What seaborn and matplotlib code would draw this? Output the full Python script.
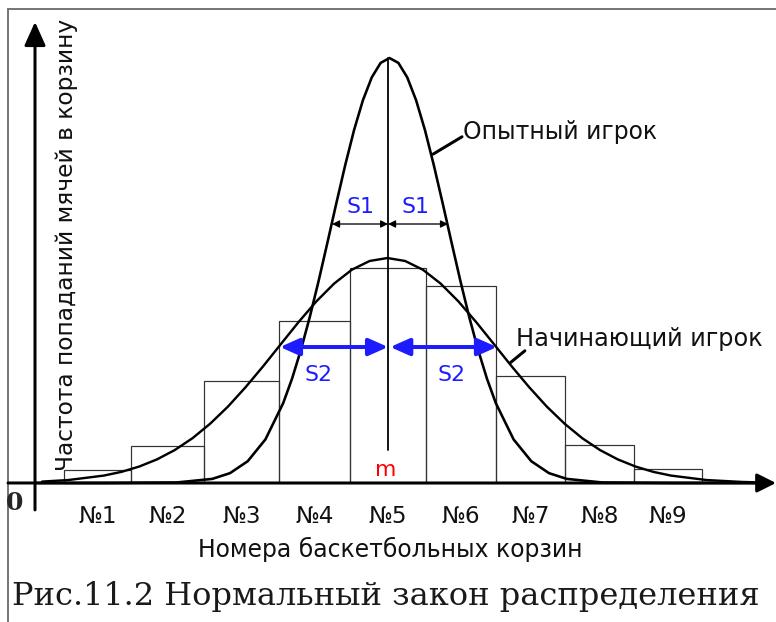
import matplotlib
matplotlib.use("Agg")
import matplotlib.pyplot as plt
import seaborn as sns

sns.set_style("white")
plt.rcParams["font.family"] = ["DejaVu Sans"]

# --- data ----------------------------------------------------------------
# x in basket units (origin at the y axis), y in relative frequency
BASKETS = ["№1", "№2", "№3", "№4", "№5", "№6", "№7", "№8", "№9"]
BIN_EDGES = [0.41, 1.35, 2.38, 3.44, 4.44, 5.51, 6.50, 7.47, 8.45, 9.41]
BEGINNER_FREQ = [0.015, 0.043, 0.117, 0.186, 0.247, 0.226, 0.123, 0.044, 0.016]

EXPERT_X = [0.0, 1.0, 2.0, 2.5, 2.75, 3.0, 3.25, 3.5, 3.625, 3.75, 3.875, 4.0,
            4.125, 4.25, 4.375, 4.5, 4.625, 4.75, 4.875, 5.0, 5.125, 5.25,
            5.375, 5.5, 5.625, 5.75, 5.875, 6.0, 6.125, 6.25, 6.375, 6.5,
            6.75, 7.0, 7.25, 7.5, 8.0, 9.0, 10.2]
EXPERT_Y = [0.0, 0.0, 0.0006, 0.0047, 0.0113, 0.0250, 0.0501, 0.0917, 0.1198,
            0.1529, 0.1906, 0.2322, 0.2765, 0.3215, 0.3653, 0.4057, 0.4400,
            0.4663, 0.4829, 0.4885, 0.4829, 0.4663, 0.4400, 0.4057, 0.3653,
            0.3215, 0.2765, 0.2322, 0.1906, 0.1529, 0.1198, 0.0917, 0.0501,
            0.0250, 0.0113, 0.0047, 0.0006, 0.0, 0.0]

BEGINNER_X = [0.10, 0.47, 0.97, 1.22, 1.47, 1.72, 1.97, 2.22, 2.47, 2.72, 2.97,
              3.22, 3.47, 3.72, 3.97, 4.22, 4.47, 4.72, 4.97, 5.22, 5.47, 5.72,
              5.97, 6.22, 6.47, 6.72, 6.97, 7.22, 7.47, 7.72, 7.97, 8.22, 8.47,
              8.72, 8.97, 9.47, 9.97, 10.2]
BEGINNER_Y = [0.0016, 0.0034, 0.0085, 0.0128, 0.0189, 0.0271, 0.0378, 0.0514,
              0.0681, 0.0877, 0.1101, 0.1344, 0.1599, 0.1852, 0.2089, 0.2293,
              0.2452, 0.2552, 0.2586, 0.2552, 0.2452, 0.2293, 0.2089, 0.1852,
              0.1599, 0.1344, 0.1101, 0.0877, 0.0681, 0.0514, 0.0378, 0.0271,
              0.0189, 0.0128, 0.0085, 0.0034, 0.0012, 0.0007]

M = 4.98
M_LINE = [0.038, 0.4885]
S1_LEVEL, S1_LEFT, S1_RIGHT = 0.2977, 4.19, 5.825
S2_LEVEL, S2_LEFT, S2_RIGHT = 0.1563, 3.455, 6.516

BLUE = "#1c1cff"

fig = plt.figure(figsize=(776 / 72, 622 / 72), dpi=72)
ax = fig.add_axes([0, 0, 1, 1])

centers = [(a + b) / 2 for a, b in zip(BIN_EDGES[:-1], BIN_EDGES[1:])]
sns.histplot(x=centers, weights=BEGINNER_FREQ, bins=BIN_EDGES, fill=False,
             element="bars", color="#333333", linewidth=1.2, ax=ax)
sns.lineplot(x=BEGINNER_X, y=BEGINNER_Y, color="black", lw=2.4, ax=ax)
sns.lineplot(x=EXPERT_X, y=EXPERT_Y, color="black", lw=2.6, ax=ax)

ax.set_xlim(-0.4937, 10.4513)
ax.set_ylim(-0.1598, 0.5552)
ax.set_xlabel("")
ax.set_ylabel("")

# axes as arrows through the origin
for side in ["top", "right", "left"]:
    ax.spines[side].set_visible(False)
ax.spines["bottom"].set_position(("data", 0))
ax.spines["bottom"].set_visible(False)
ax.set_yticks([])
ax.set_xticks(centers)
ax.set_xticklabels(BASKETS)
ax.set_xticks(BIN_EDGES, minor=True)
ax.tick_params(axis="x", which="major", length=0, pad=22, labelsize=23, labelcolor="#111111")
ax.tick_params(axis="x", which="minor", length=15, width=1.5, color="black", direction="out")

ax.annotate("", xy=(10.4513, 0), xytext=(-0.381, 0),
            arrowprops=dict(arrowstyle="-|>,head_length=0.8,head_width=0.4", lw=3,
                            color="black", mutation_scale=20, shrinkA=0, shrinkB=0))
ax.annotate("", xy=(0, 0.530), xytext=(0, -0.031),
            arrowprops=dict(arrowstyle="-|>,head_length=1.0,head_width=0.45", lw=3,
                            color="black", mutation_scale=20, shrinkA=0, shrinkB=0))

# mean line and widths
ax.plot([M, M], M_LINE, color="black", lw=1.8)
for a, b in [(S1_LEFT, M), (M, S1_RIGHT)]:
    ax.annotate("", xy=(b, S1_LEVEL), xytext=(a, S1_LEVEL),
                arrowprops=dict(arrowstyle="<|-|>,head_length=0.5,head_width=0.25", lw=1.3,
                                color="black", mutation_scale=12, shrinkA=0, shrinkB=0))
for a, b in [(S2_LEFT, M), (M + 0.03, S2_RIGHT)]:
    ax.annotate("", xy=(b, S2_LEVEL), xytext=(a, S2_LEVEL),
                arrowprops=dict(arrowstyle="<|-|>,head_length=0.9,head_width=0.4", lw=4,
                                color=BLUE, mutation_scale=18, shrinkA=0, shrinkB=0))

ax.text(4.59, 0.317, "S1", color=BLUE, fontsize=22, ha="center", va="center")
ax.text(5.36, 0.317, "S1", color=BLUE, fontsize=22, ha="center", va="center")
ax.text(4.00, 0.124, "S2", color=BLUE, fontsize=22, ha="center", va="center")
ax.text(5.87, 0.124, "S2", color=BLUE, fontsize=22, ha="center", va="center")
ax.text(4.94, 0.015, "m", color="red", fontsize=22, ha="center", va="center")

# curve labels with leader lines
ax.plot([5.614, 6.023], [0.378, 0.398], color="black", lw=3)
ax.text(6.03, 0.404, "Опытный игрок", fontsize=23.5, color="#111111", va="center")
ax.plot([6.70, 6.91], [0.138, 0.152], color="black", lw=3)
ax.text(6.79, 0.166, "Начинающий игрок", fontsize=24, color="#111111", va="center")

ax.text(0.086, 0.606, "Частота попаданий мячей в корзину", transform=ax.transAxes,
        rotation=90, fontsize=23.4, color="#111111", ha="center", va="center")
ax.text(0.503, 0.116, "Номера баскетбольных корзин", transform=ax.transAxes,
        fontsize=23.5, color="#111111", ha="center", va="center")
ax.text(12 / 776, 1 - 596 / 622, "Рис.11.2 Нормальный закон распределения",
        transform=ax.transAxes, fontsize=32, family="DejaVu Serif", color="#1a1a1a",
        ha="left", va="center")
ax.text(15 / 776, 1 - 503 / 622, "0", transform=ax.transAxes, fontsize=25,
        family="DejaVu Serif", fontweight="bold", ha="center", va="center")

# thin grey frame on the top and left
ax.plot([8 / 776, 1], [1 - 9 / 622, 1 - 9 / 622], transform=ax.transAxes,
        color="#777777", lw=2, clip_on=False)
ax.plot([8 / 776, 8 / 776], [0, 1 - 9 / 622], transform=ax.transAxes,
        color="#777777", lw=2, clip_on=False)

fig.savefig("out.png", dpi=72)
